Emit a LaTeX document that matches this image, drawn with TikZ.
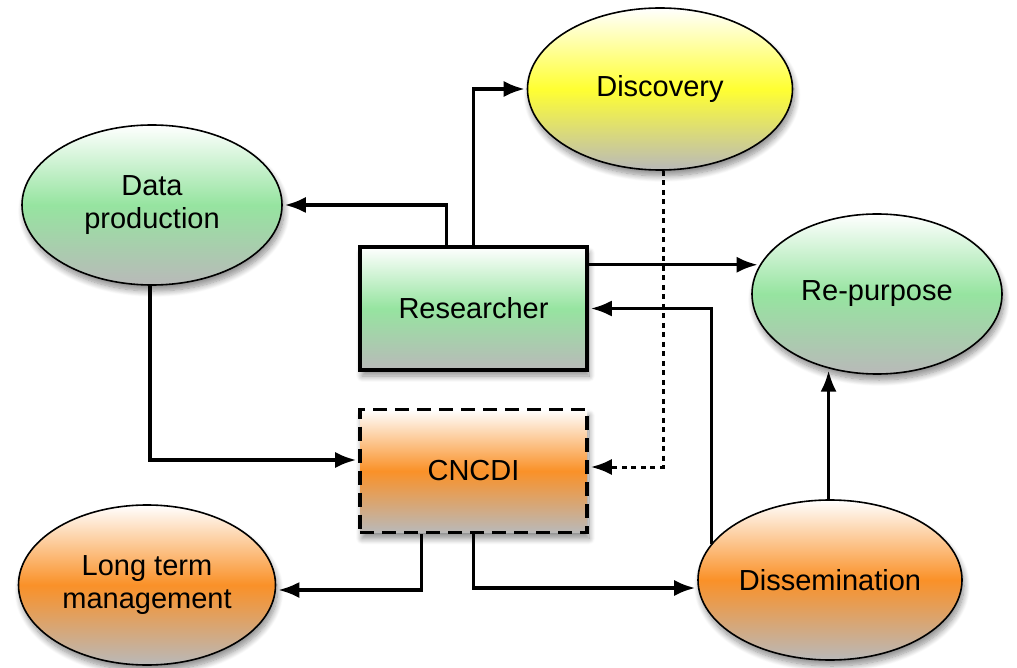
\documentclass[tikz,border=0pt]{standalone}
\usepackage{fontspec}
\setmainfont{Liberation Sans}
\usetikzlibrary{arrows.meta,shadows.blur,calc,shapes.geometric}
\definecolor{gmid}{RGB}{150,228,160}
\definecolor{ymid}{RGB}{255,255,50}
\definecolor{omid}{RGB}{250,145,40}
\definecolor{botgray}{RGB}{185,185,185}
\begin{document}
\begin{tikzpicture}[x=1pt,y=-1pt,
  every node/.style={font=\fontsize{29}{33}\selectfont, align=center, inner sep=0pt},
  shad/.style={blur shadow={shadow xshift=2pt, shadow yshift=-6pt, shadow blur steps=10, shadow opacity=45, shadow blur radius=6pt}},
  ell/.style={ellipse, draw, line width=1.6pt, shad},
  box/.style={rectangle, draw, line width=3.6pt, minimum width=227pt, minimum height=123pt, shad},
  green/.style={top color=white, bottom color=botgray, middle color=gmid},
  yell/.style={top color=white, bottom color=botgray, middle color=ymid},
  oran/.style={top color=white, bottom color=botgray, middle color=omid},
  arr/.style={line width=3.2pt, -{Latex[length=21pt,width=16pt]}, shorten >=2pt}
]
\useasboundingbox (0,0) rectangle (1017,668);
\node[ell, yell, minimum width=265pt, minimum height=162pt] (disc) at (660,89) {Discovery};
\node[ell, green, minimum width=260pt, minimum height=160pt] (dp) at (152,205) {Data\\production};
\node[ell, green, minimum width=250pt, minimum height=160pt] (rp) at (877,294) {Re-purpose};
\node[box, green] (res) at (473.5,308.5) {Researcher};
\node[box, oran, dash pattern=on 14pt off 8pt] (cn) at (473.5,471) {CNCDI};
\node[ell, oran, minimum width=257pt, minimum height=160pt] (ltm) at (147,585) {Long term\\management};
\node[ell, oran, minimum width=264pt, minimum height=160pt] (dis) at (830,580) {Dissemination};

\draw[arr] ([xshift=-27pt]res.north) |- (dp.east);
\draw[arr] (res.north) |- (disc.west);
\draw[arr] (rp.166.5 -| res.east) -- (rp.166.5);
\draw[arr] (dis.163) |- (res.east);
\draw[arr] (rp.237.6 |- dis.north) -- (rp.237.6);
\draw[arr, line width=3pt, dash pattern=on 5pt off 4.5pt] ([xshift=3pt]disc.south) |- ([yshift=4pt]cn.east);
\draw[arr] ([xshift=-2pt]dp.south) |- ([yshift=11pt]cn.west);
\draw[arr] ([xshift=-52pt]cn.south) |- ([yshift=-5pt]ltm.east);
\draw[arr] (cn.south) |- ([yshift=-8pt]dis.west);
\end{tikzpicture}
\end{document}
